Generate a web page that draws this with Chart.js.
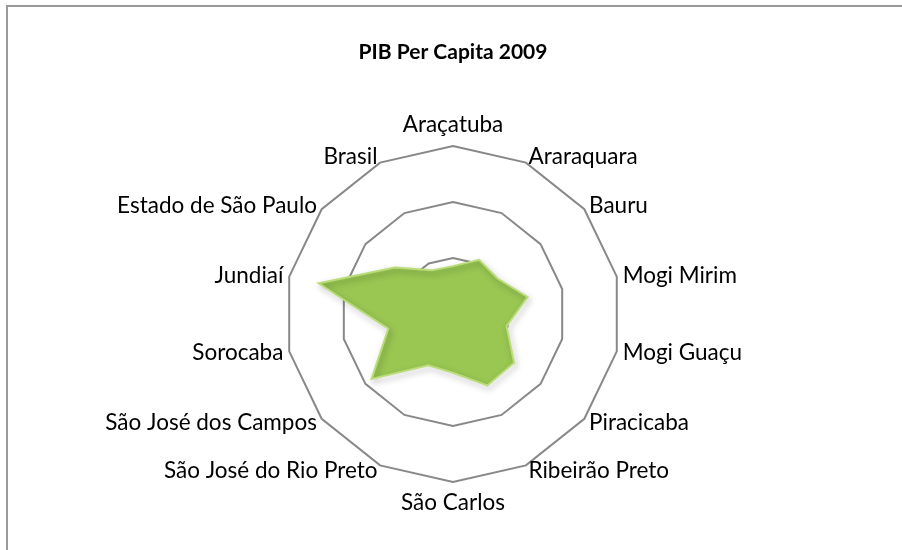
<!DOCTYPE html>
<html>
<head>
<meta charset="utf-8">
<script src="https://cdn.jsdelivr.net/npm/chart.js@4/dist/chart.umd.min.js"></script>
<style>
  html, body { margin: 0; padding: 0; background: #fff; }
  canvas { display: block; }
</style>
</head>
<body>
<canvas id="c" width="902" height="550"></canvas>
<script>
const categories = [
  'Araçatuba', 'Araraquara', 'Bauru', 'Mogi Mirim', 'Mogi Guaçu', 'Piracicaba',
  'Ribeirão Preto', 'São Carlos', 'São José do Rio Preto', 'São José dos Campos',
  'Sorocaba', 'Jundiaí', 'Estado de São Paulo', 'Brasil'
];
const pibPerCapita = [
  17100, 21500, 20300, 27300, 19600, 27900,
  28300, 21000, 20300, 37200,
  23700, 49200, 26600, 17300
];
const axisMin = 0;
const axisMax = 60000;
const axisStep = 20000;

const labelFont = '22.5px Lato';

const framePlugin = {
  id: 'frame',
  beforeDraw(chart) {
    const ctx = chart.ctx;
    ctx.save();
    ctx.fillStyle = '#fff';
    ctx.fillRect(0, 0, chart.width, chart.height);
    ctx.strokeStyle = '#9a9a9a';
    ctx.lineWidth = 2;
    ctx.beginPath();
    ctx.moveTo(7, chart.height);
    ctx.lineTo(7, 6);
    ctx.lineTo(chart.width, 6);
    ctx.stroke();
    ctx.restore();
  }
};

const labelPlugin = {
  id: 'excelPointLabels',
  afterDraw(chart) {
    const scale = chart.scales.r;
    const ctx = chart.ctx;
    ctx.save();
    ctx.font = labelFont;
    ctx.fillStyle = '#000';
    categories.forEach((lab, i) => {
      const outer = scale.getPointPosition(i, scale.drawingArea);
      const a = outer.angle;
      const cx = Math.cos(a), cy = Math.sin(a);
      let x, y, align;
      if (Math.abs(cx) < 0.05) {
        align = 'center';
        x = outer.x;
        y = outer.y + (cy < 0 ? -21 : 21);
      } else {
        const p = scale.getPointPosition(i, scale.drawingArea + 6);
        x = p.x; y = p.y;
        align = cx > 0 ? 'left' : 'right';
      }
      ctx.textAlign = align;
      ctx.textBaseline = 'middle';
      ctx.fillText(lab, x, y);
    });
    ctx.restore();
  }
};

const shadowPlugin = {
  id: 'bevelShadow',
  beforeDatasetDraw(chart) {
    const ctx = chart.ctx;
    ctx.save();
    ctx.shadowColor = 'rgba(0,0,0,0.35)';
    ctx.shadowBlur = 6;
    ctx.shadowOffsetX = 2;
    ctx.shadowOffsetY = 3;
  },
  afterDatasetDraw(chart) {
    chart.ctx.restore();
  }
};

new Chart(document.getElementById('c'), {
  type: 'radar',
  data: {
    labels: categories,
    datasets: [{
      label: 'PIB Per Capita 2009',
      data: pibPerCapita,
      backgroundColor: '#99C752',
      borderColor: '#BADD7A',
      borderWidth: 2,
      pointRadius: 0,
      pointHoverRadius: 0,
      tension: 0,
      fill: true
    }]
  },
  options: {
    responsive: false,
    animation: false,
    devicePixelRatio: 1,
    layout: { padding: { top: 0, bottom: 68, left: 285, right: 281 } },
    plugins: {
      legend: { display: false },
      tooltip: { enabled: false },
      title: {
        display: true,
        text: 'PIB Per Capita 2009',
        color: '#000',
        font: { family: 'Lato', size: 21, weight: 'bold', lineHeight: 1.2 },
        padding: { top: 39.4, bottom: 81.4 }
      }
    },
    scales: {
      r: {
        min: axisMin,
        max: axisMax,
        ticks: { display: false, stepSize: axisStep },
        grid: { color: '#888888', lineWidth: 2 },
        angleLines: { display: false },
        pointLabels: { display: false }
      }
    }
  },
  plugins: [framePlugin, shadowPlugin, labelPlugin]
});
</script>
</body>
</html>
